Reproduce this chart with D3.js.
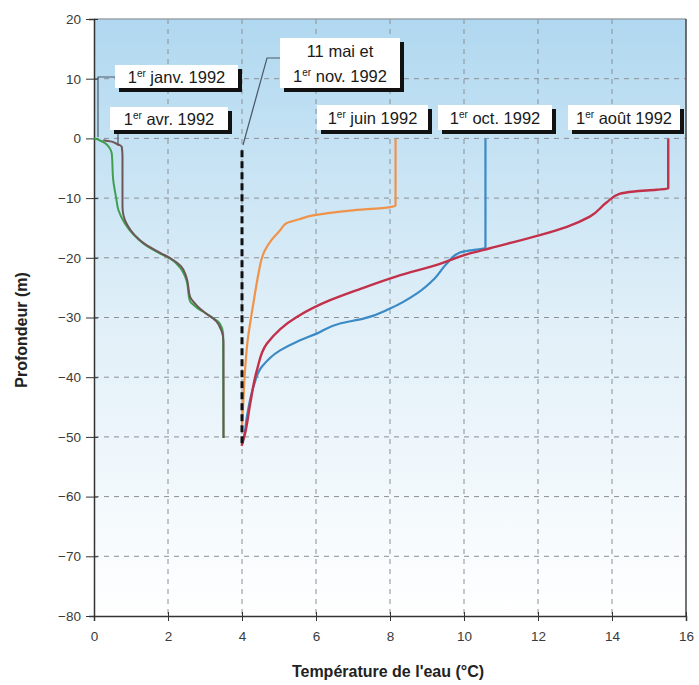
<!DOCTYPE html>
<html>
<head>
<meta charset="utf-8">
<script src="https://cdn.jsdelivr.net/npm/d3@7"></script>
<style>
  body { margin: 0; background: #fff; }
  svg { font-family: "Liberation Sans", Arial, sans-serif; }
</style>
</head>
<body>
<svg width="699" height="685"></svg>
<script>
// temperature (°C) / depth (m) profiles
const janT = [0.25, 0.45, 0.61, 0.75, 0.77, 0.77, 0.8, 0.9, 1.1, 1.4, 1.8, 2.1, 2.35, 2.5, 2.6, 2.75, 3.0, 3.3, 3.45, 3.5, 3.5];
const janD = [-0.3, -0.5, -0.9, -1.4, -3, -11.4, -13, -14.5, -16.2, -17.8, -19.2, -20.2, -21.4, -23.3, -26.6, -27.8, -29.2, -30.6, -32.3, -34, -50.2];
const avrT = [0, 0.15, 0.3, 0.42, 0.48, 0.52, 0.6, 0.66, 0.83, 1.05, 1.33, 1.79, 2.05, 2.32, 2.5, 2.59, 2.77, 3.13, 3.4, 3.49, 3.5];
const avrD = [0, -0.3, -0.8, -1.6, -2.5, -7, -10, -12, -14.2, -16, -17.6, -19.3, -20.1, -21.6, -23.8, -27.2, -28.3, -29.7, -31, -32.7, -50.2];
const maiT = [4, 4];
const maiD = [-2, -51.4];
const juinT = [8.15, 8.15, 8.0, 6.92, 5.92, 5.57, 5.2, 5.03, 4.8, 4.6, 4.53, 4.45, 4.35, 4.26, 4.15, 4.08, 4.04, 4.0];
const juinD = [0, -11.3, -11.5, -12.1, -12.9, -13.5, -14.2, -15.4, -17, -19, -20.2, -22.5, -26, -29.4, -34, -39, -43.5, -48];
const octT = [10.58, 10.58, 10.03, 9.89, 9.53, 9.2, 8.72, 8.0, 7.28, 6.65, 6.02, 5.5, 5.03, 4.53, 4.31, 4.13, 4.05, 4.0];
const octD = [0, -18.3, -18.9, -19.1, -21, -23.5, -26, -28.5, -30.2, -31, -32.7, -34, -35.5, -38.3, -41.6, -46.7, -50, -51];
const aoutT = [15.52, 15.52, 15.2, 14.6, 14.2, 13.86, 13.4, 12.78, 12.05, 10.7, 10.03, 9.35, 8.18, 7.2, 6.38, 5.48, 4.67, 4.4, 4.22, 4.08, 3.99];
const aoutD = [0, -8.4, -8.6, -8.9, -9.3, -10.7, -13.1, -14.8, -16.2, -18.4, -19.5, -21, -23.1, -25.2, -27.1, -29.9, -34.4, -38.9, -44.5, -49.5, -51.5];

const xTicks = [0, 2, 4, 6, 8, 10, 12, 14, 16];
const yTicks = [20, 10, 0, -10, -20, -30, -40, -50, -60, -70, -80];

const series = [
  { name: "avr", t: avrT, d: avrD, color: "#3f9f4f", width: 2 },
  { name: "janv", t: janT, d: janD, color: "#6e5656", width: 2 },
  { name: "juin", t: juinT, d: juinD, color: "#f0934a", width: 2.2 },
  { name: "oct", t: octT, d: octD, color: "#3a8ac6", width: 2.2 },
  { name: "aout", t: aoutT, d: aoutD, color: "#c2304a", width: 2.4 }
];

const svg = d3.select("svg");
const mLeft = 94, mRight = 686, mTop = 19, mBottom = 616;

const x = d3.scaleLinear().domain([0, 16]).range([mLeft, mRight]);
const y = d3.scaleLinear().domain([-80, 20]).range([mBottom, mTop]);

// background gradient
const grad = svg.append("defs").append("linearGradient")
  .attr("id", "bg").attr("x1", 0).attr("y1", 0).attr("x2", 0).attr("y2", 1);
grad.append("stop").attr("offset", "0%").attr("stop-color", "#b0d8f0");
grad.append("stop").attr("offset", "50%").attr("stop-color", "#e0eff8");
grad.append("stop").attr("offset", "100%").attr("stop-color", "#ffffff");

svg.append("rect")
  .attr("x", mLeft).attr("y", mTop)
  .attr("width", mRight - mLeft).attr("height", mBottom - mTop)
  .attr("fill", "url(#bg)");

// grid
svg.append("g").selectAll("line").data(xTicks.slice(1, -1)).join("line")
  .attr("x1", d => x(d)).attr("x2", d => x(d))
  .attr("y1", mTop).attr("y2", mBottom)
  .attr("stroke", "#8a8f96").attr("stroke-width", 1).attr("stroke-dasharray", "5,5");
svg.append("g").selectAll("line").data(yTicks.slice(1, -1)).join("line")
  .attr("x1", mLeft).attr("x2", mRight)
  .attr("y1", d => y(d)).attr("y2", d => y(d))
  .attr("stroke", "#8a8f96").attr("stroke-width", 1).attr("stroke-dasharray", "5,5");

// frame
svg.append("line").attr("x1", mLeft).attr("x2", mRight).attr("y1", mTop).attr("y2", mTop)
  .attr("stroke", "#9aa3ab").attr("stroke-width", 1.5);
svg.append("line").attr("x1", mRight).attr("x2", mRight).attr("y1", mTop).attr("y2", mBottom)
  .attr("stroke", "#444").attr("stroke-width", 1.5);

// axes
const xAxis = svg.append("g").attr("transform", `translate(0,${mBottom})`)
  .call(d3.axisBottom(x).tickValues(xTicks).tickSize(5).tickPadding(10));
const yAxis = svg.append("g").attr("transform", `translate(${mLeft},0)`)
  .call(d3.axisLeft(y).tickValues(yTicks).tickSize(5).tickPadding(8));
[xAxis, yAxis].forEach(g => {
  g.select(".domain").attr("stroke", "#333").attr("stroke-width", 1.5);
  g.selectAll(".tick line").attr("stroke", "#333");
  g.selectAll("text").attr("fill", "#3a3a3a").attr("font-size", 13.5);
});
xAxis.selectAll(".tick line").attr("y1", -4);
yAxis.selectAll(".tick line").attr("x2", -8).attr("x1", 4);

// axis titles
svg.append("text").attr("x", 388).attr("y", 677).attr("text-anchor", "middle")
  .attr("font-size", 16).attr("font-weight", "bold").attr("fill", "#222")
  .text("Température de l'eau (°C)");
svg.append("text").attr("transform", "translate(27,330) rotate(-90)")
  .attr("text-anchor", "middle")
  .attr("font-size", 16).attr("font-weight", "bold").attr("fill", "#222")
  .text("Profondeur (m)");

// leader lines
const leaders = [
  [[115, 77], [98, 77], [98, 137]],
  [[118, 130], [118, 146]],
  [[280, 58], [267, 58], [243, 145]]
];
svg.append("g").selectAll("path").data(leaders).join("path")
  .attr("d", d3.line())
  .attr("fill", "none").attr("stroke", "#4a5a6a").attr("stroke-width", 1.2);

// curves
series.forEach(s => {
  const pts = s.t.map((t, i) => [t, s.d[i]]);
  svg.append("path").datum(pts)
    .attr("d", d3.line().x(p => x(p[0])).y(p => y(p[1])).curve(d3.curveMonotoneY))
    .attr("fill", "none").attr("stroke", s.color)
    .attr("stroke-width", s.width).attr("stroke-linejoin", "round");
});

svg.append("path").datum(maiT.map((t, i) => [t, maiD[i]]))
  .attr("d", d3.line().x(p => x(p[0])).y(p => y(p[1])))
  .attr("fill", "none").attr("stroke", "#111").attr("stroke-width", 3)
  .attr("stroke-dasharray", "7,4");

// labels
const labels = [
  { x: 115, y: 65, w: 123, h: 23, lines: [["1", "er", " janv. 1992"]] },
  { x: 110, y: 107, w: 118, h: 23, lines: [["1", "er", " avr. 1992"]] },
  { x: 280, y: 38, w: 120, h: 50, lines: [["11 mai et", "", ""], ["1", "er", " nov. 1992"]] },
  { x: 317, y: 105, w: 111, h: 25, lines: [["1", "er", " juin 1992"]] },
  { x: 438, y: 105, w: 114, h: 25, lines: [["1", "er", " oct. 1992"]] },
  { x: 568, y: 105, w: 112, h: 25, lines: [["1", "er", " août 1992"]] }
];
labels.forEach(l => {
  const g = svg.append("g");
  g.append("rect").attr("x", l.x + 4).attr("y", l.y + 4).attr("width", l.w).attr("height", l.h)
    .attr("fill", "#111");
  g.append("rect").attr("x", l.x).attr("y", l.y).attr("width", l.w).attr("height", l.h)
    .attr("fill", "#fff");
  const lh = l.h / l.lines.length;
  l.lines.forEach((ln, i) => {
    const t = g.append("text").attr("x", l.x + l.w / 2).attr("y", l.y + lh * i + lh / 2 + 6)
      .attr("text-anchor", "middle").attr("font-size", 16.5).attr("fill", "#1a1a1a");
    t.append("tspan").text(ln[0]);
    if (ln[1]) t.append("tspan").attr("font-size", 10).attr("dy", -6).text(ln[1]);
    if (ln[2]) t.append("tspan").attr("dy", ln[1] ? 6 : 0).text(ln[2]);
  });
});
</script>
</body>
</html>
